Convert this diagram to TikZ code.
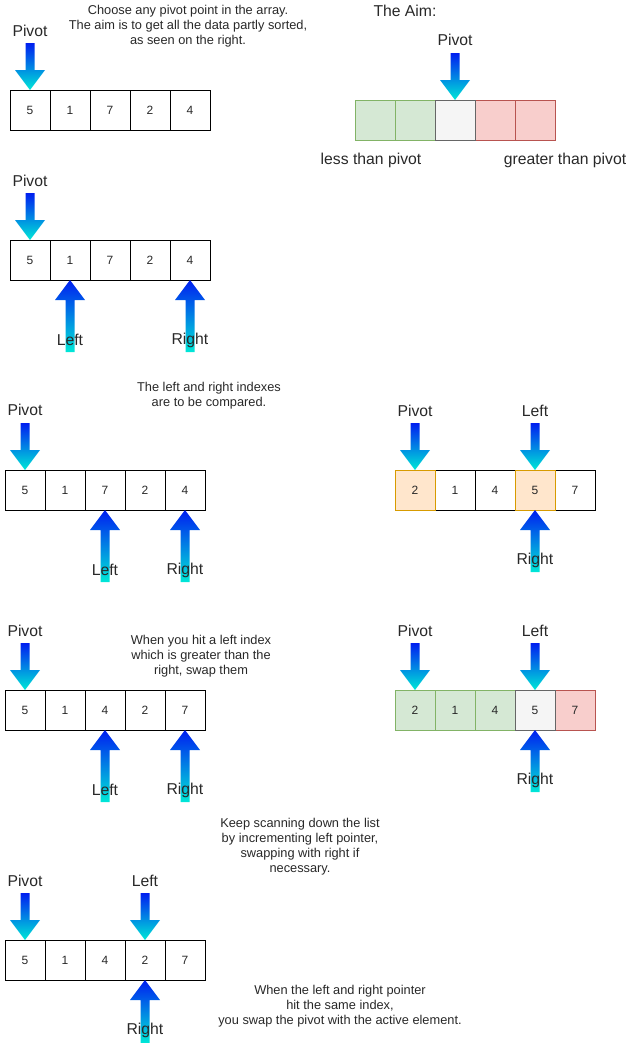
\documentclass[tikz,border=0pt]{standalone}
\usepackage{fontspec}
\setmainfont{Liberation Sans}

\definecolor{arrowtop}{RGB}{0,30,240}
\definecolor{arrowbot}{RGB}{0,232,215}
\definecolor{inkgrey}{RGB}{40,40,40}

\tikzset{every picture/.style={line width=0.75pt}}
\tikzset{
  cell/.style={draw, minimum width=30pt, minimum height=30pt, inner sep=0pt, outer sep=0pt, text=inkgrey, font=\fontsize{9}{10}\selectfont},
  greencell/.style={cell, fill={rgb, 255:red, 213; green, 232; blue, 212 }, draw={rgb, 255:red, 130; green, 179; blue, 102 }},
  greycell/.style={cell, fill={rgb, 255:red, 245; green, 245; blue, 245 }, draw={rgb, 255:red, 102; green, 102; blue, 102 }},
  redcell/.style={cell, fill={rgb, 255:red, 248; green, 206; blue, 204 }, draw={rgb, 255:red, 184; green, 84; blue, 80 }},
  orangecell/.style={cell, fill={rgb, 255:red, 255; green, 230; blue, 204 }, draw={rgb, 255:red, 215; green, 155; blue, 0 }},
  blockarrow/.style={top color=arrowtop, bottom color=arrowbot, draw=none},
  lbl/.style={inner sep=0.75pt, text=inkgrey, font=\fontsize{11.8}{14}\selectfont},
  note/.style={inner sep=0.75pt, text=inkgrey, align=center, font=\fontsize{9.6}{11.25}\selectfont}
}

\begin{document}
\begin{tikzpicture}[x=0.75pt,y=0.75pt,yscale=-1,xscale=1]

\useasboundingbox (0,0) rectangle (636,1043);

% step 1
\draw (30,110) node (a1) [cell] {5};
\draw (70,110) node (a2) [cell] {1};
\draw (110,110) node (a3) [cell] {7};
\draw (150,110) node (a4) [cell] {2};
\draw (190,110) node (a5) [cell] {4};

\path [blockarrow] (a1.north) -- ++(15,-20) -- ++(-10.5,0) -- ++(0,-27) -- ++(-9,0) -- ++(0,27) -- ++(-10.5,0) -- cycle ;

\draw (30,31) node (apivot) [lbl] {Pivot};
\draw (188,26) node (anote) [note] {Choose any pivot point in the array.\\The aim is to get all the data partly sorted,\\as seen on the right.};

% the aim
\draw (375,120) node (m1) [greencell] {};
\draw (415,120) node (m2) [greencell] {};
\draw (495,120) node (m4) [redcell] {};
\draw (535,120) node (m5) [redcell] {};
\draw (455,120) node (m3) [greycell] {};

\path [blockarrow] (m3.north) -- ++(15,-20) -- ++(-10.5,0) -- ++(0,-27) -- ++(-9,0) -- ++(0,27) -- ++(-10.5,0) -- cycle ;

\draw (405,11) node (mtitle) [lbl] {The Aim:};
\draw (455,40) node (mpivot) [lbl] {Pivot};
\draw (371,160) node (mless) [lbl] {less than pivot};
\draw (565,160) node (mmore) [lbl] {greater than pivot};

% step 2
\draw (30,260) node (b1) [cell] {5};
\draw (70,260) node (b2) [cell] {1};
\draw (110,260) node (b3) [cell] {7};
\draw (150,260) node (b4) [cell] {2};
\draw (190,260) node (b5) [cell] {4};

\path [blockarrow] (b1.north) -- ++(15,-20) -- ++(-10.5,0) -- ++(0,-27) -- ++(-9,0) -- ++(0,27) -- ++(-10.5,0) -- cycle ;
\path [blockarrow] (b2.south) -- ++(15,20) -- ++(-10.5,0) -- ++(0,52) -- ++(-9,0) -- ++(0,-52) -- ++(-10.5,0) -- cycle ;
\path [blockarrow] (b5.south) -- ++(15,20) -- ++(-10.5,0) -- ++(0,52) -- ++(-9,0) -- ++(0,-52) -- ++(-10.5,0) -- cycle ;

\draw (30,181) node (bpivot) [lbl] {Pivot};
\draw (70,340) node (bleft) [lbl] {Left};
\draw (190,340) node (bright) [lbl] {Right};

% step 3
\draw (25,490) node (c1) [cell] {5};
\draw (65,490) node (c2) [cell] {1};
\draw (105,490) node (c3) [cell] {7};
\draw (145,490) node (c4) [cell] {2};
\draw (185,490) node (c5) [cell] {4};

\path [blockarrow] (c1.north) -- ++(15,-20) -- ++(-10.5,0) -- ++(0,-27) -- ++(-9,0) -- ++(0,27) -- ++(-10.5,0) -- cycle ;
\path [blockarrow] (c3.south) -- ++(15,20) -- ++(-10.5,0) -- ++(0,52) -- ++(-9,0) -- ++(0,-52) -- ++(-10.5,0) -- cycle ;
\path [blockarrow] (c5.south) -- ++(15,20) -- ++(-10.5,0) -- ++(0,52) -- ++(-9,0) -- ++(0,-52) -- ++(-10.5,0) -- cycle ;

\draw (25,410) node (cpivot) [lbl] {Pivot};
\draw (105,570) node (cleft) [lbl] {Left};
\draw (185,570) node (cright) [lbl] {Right};
\draw (209,396) node (cnote) [note] {The left and right indexes\\are to be compared.};

% step 3, right side
\draw (455,490) node (d2) [cell] {1};
\draw (495,490) node (d3) [cell] {4};
\draw (575,490) node (d5) [cell] {7};
\draw (415,490) node (d1) [orangecell] {2};
\draw (535,490) node (d4) [orangecell] {5};

\path [blockarrow] (d1.north) -- ++(15,-20) -- ++(-10.5,0) -- ++(0,-27) -- ++(-9,0) -- ++(0,27) -- ++(-10.5,0) -- cycle ;
\path [blockarrow] (d4.north) -- ++(15,-20) -- ++(-10.5,0) -- ++(0,-27) -- ++(-9,0) -- ++(0,27) -- ++(-10.5,0) -- cycle ;
\path [blockarrow] (d4.south) -- ++(15,20) -- ++(-10.5,0) -- ++(0,42) -- ++(-9,0) -- ++(0,-42) -- ++(-10.5,0) -- cycle ;

\draw (415,411) node (dpivot) [lbl] {Pivot};
\draw (535,411) node (dleft) [lbl] {Left};
\draw (535,560) node (dright) [lbl] {Right};

% step 4
\draw (25,710) node (e1) [cell] {5};
\draw (65,710) node (e2) [cell] {1};
\draw (105,710) node (e3) [cell] {4};
\draw (145,710) node (e4) [cell] {2};
\draw (185,710) node (e5) [cell] {7};

\path [blockarrow] (e1.north) -- ++(15,-20) -- ++(-10.5,0) -- ++(0,-27) -- ++(-9,0) -- ++(0,27) -- ++(-10.5,0) -- cycle ;
\path [blockarrow] (e3.south) -- ++(15,20) -- ++(-10.5,0) -- ++(0,52) -- ++(-9,0) -- ++(0,-52) -- ++(-10.5,0) -- cycle ;
\path [blockarrow] (e5.south) -- ++(15,20) -- ++(-10.5,0) -- ++(0,52) -- ++(-9,0) -- ++(0,-52) -- ++(-10.5,0) -- cycle ;

\draw (25,631) node (epivot) [lbl] {Pivot};
\draw (105,790) node (eleft) [lbl] {Left};
\draw (185,790) node (eright) [lbl] {Right};
\draw (201,656) node (enote) [note] {When you hit a left index\\which is greater than the\\right, swap them};

% step 4, right side
\draw (415,710) node (f1) [greencell] {2};
\draw (455,710) node (f2) [greencell] {1};
\draw (495,710) node (f3) [greencell] {4};
\draw (575,710) node (f5) [redcell] {7};
\draw (535,710) node (f4) [greycell] {5};

\path [blockarrow] (f1.north) -- ++(15,-20) -- ++(-10.5,0) -- ++(0,-27) -- ++(-9,0) -- ++(0,27) -- ++(-10.5,0) -- cycle ;
\path [blockarrow] (f4.north) -- ++(15,-20) -- ++(-10.5,0) -- ++(0,-27) -- ++(-9,0) -- ++(0,27) -- ++(-10.5,0) -- cycle ;
\path [blockarrow] (f4.south) -- ++(15,20) -- ++(-10.5,0) -- ++(0,42) -- ++(-9,0) -- ++(0,-42) -- ++(-10.5,0) -- cycle ;

\draw (415,631) node (fpivot) [lbl] {Pivot};
\draw (535,631) node (fleft) [lbl] {Left};
\draw (535,780) node (fright) [lbl] {Right};

% step 5
\draw (25,960) node (g1) [cell] {5};
\draw (65,960) node (g2) [cell] {1};
\draw (105,960) node (g3) [cell] {4};
\draw (145,960) node (g4) [cell] {2};
\draw (185,960) node (g5) [cell] {7};

\path [blockarrow] (g1.north) -- ++(15,-20) -- ++(-10.5,0) -- ++(0,-27) -- ++(-9,0) -- ++(0,27) -- ++(-10.5,0) -- cycle ;
\path [blockarrow] (g4.north) -- ++(15,-20) -- ++(-10.5,0) -- ++(0,-27) -- ++(-9,0) -- ++(0,27) -- ++(-10.5,0) -- cycle ;
\path [blockarrow] (g4.south) -- ++(15,20) -- ++(-10.5,0) -- ++(0,43) -- ++(-9,0) -- ++(0,-43) -- ++(-10.5,0) -- cycle ;

\draw (25,881) node (gpivot) [lbl] {Pivot};
\draw (145,881) node (gleft) [lbl] {Left};
\draw (145,1030) node (gright) [lbl] {Right};
\draw (300,847) node (gnote) [note] {Keep scanning down the list\\by incrementing left pointer,\\swapping with right if\\necessary.};
\draw (340,1006) node (gend) [note] {When the left and right pointer\\hit the same index,\\you swap the pivot with the active element.};

\end{tikzpicture}
\end{document}
